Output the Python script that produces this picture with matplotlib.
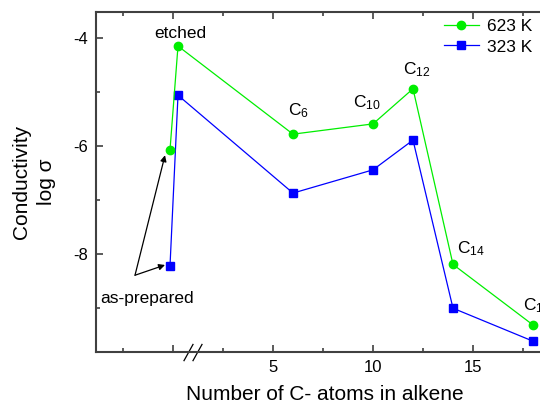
import matplotlib
matplotlib.use('Agg')
import matplotlib.pyplot as plt

plt.rcParams['font.family'] = ['Liberation Sans', 'DejaVu Sans']
plt.rcParams['mathtext.default'] = 'regular'
plt.rcParams['axes.unicode_minus'] = False

# x positions: as-prepared and etched samples sit left of the axis break
carbon_atoms = [-0.15, 0.25, 6, 10, 12, 14, 18]
log_sigma_623 = [-6.07, -4.15, -5.78, -5.59, -4.94, -8.19, -9.31]
log_sigma_323 = [-8.22, -5.06, -6.87, -6.44, -5.89, -9.00, -9.61]

sample_labels = ['C$_{6}$', 'C$_{10}$', 'C$_{12}$', 'C$_{14}$', 'C$_{18}$']
label_x = [5.75, 9.0, 11.5, 14.2, 17.5]
label_y = [-5.43, -5.28, -4.67, -7.98, -9.04]

x_major = [0, 5, 10, 15]
x_major_labels = ['', '5', '10', '15']
x_minor = [-2.5, 2.5, 7.5, 12.5, 17.5]
y_major = [-4, -6, -8]
y_minor = [-5, -7, -9]

axis_color = '#404040'


def main():
    fig = plt.figure(figsize=(5.4, 4.07), dpi=100)
    ax = fig.add_axes([96 / 540, 55 / 407, 457 / 540, 340 / 407])

    ax.plot(carbon_atoms, log_sigma_323, color='#0000ff', lw=0.9,
            marker='s', ms=5.2, label='323 K')
    ax.plot(carbon_atoms, log_sigma_623, color='#00ee00', lw=0.9,
            marker='o', ms=6, label='623 K')

    ax.set_xlim(-3.85, 19)
    ax.set_ylim(-9.81, -3.52)

    ax.set_xticks(x_major)
    ax.set_xticklabels(x_major_labels)
    ax.set_xticks(x_minor, minor=True)
    ax.set_yticks(y_major)
    ax.set_yticks(y_minor, minor=True)
    ax.tick_params(which='both', direction='in', top=True, right=True,
                   labelsize=12, color=axis_color, width=1.2)
    ax.tick_params(which='major', length=5, pad=6)
    ax.tick_params(which='minor', length=3)
    for sp in ax.spines.values():
        sp.set_color(axis_color)
        sp.set_linewidth(1.5)

    # axis break marks
    for dx in [0.55, 1.0]:
        ax.plot([dx, dx + 0.45], [-9.97, -9.67], color='black', lw=0.9,
                clip_on=False)

    ax.text(0.35, -4.0, 'etched', fontsize=12.5, ha='center', va='baseline')
    for lab, lx, ly in zip(sample_labels, label_x, label_y):
        ax.text(lx, ly, lab, fontsize=12.5, ha='left', va='baseline')

    ax.text(-3.65, -8.91, 'as-prepared', fontsize=12.5, ha='left', va='baseline')
    arrow = dict(arrowstyle='-|>', color='black', lw=0.9,
                 mutation_scale=9, shrinkA=0, shrinkB=0)
    ax.annotate('', xy=(-0.4, -6.17), xytext=(-1.9, -8.39), arrowprops=arrow)
    ax.annotate('', xy=(-0.4, -8.2), xytext=(-1.9, -8.39), arrowprops=arrow)

    handles, labels = ax.get_legend_handles_labels()
    fig.legend(handles[::-1], labels[::-1], loc='upper left',
               bbox_to_anchor=(444 / 540, 1 - 19 / 407), frameon=False,
               fontsize=12.5, handlelength=2.0, handletextpad=0.5,
               borderpad=0, borderaxespad=0, labelspacing=0.3)

    ax.set_xlabel('Number of C- atoms in alkene', fontsize=15, labelpad=7)
    ax.set_ylabel('Conductivity\nlog σ', fontsize=15, labelpad=12,
                  linespacing=1.45)

    fig.savefig('out.png', dpi=100)


if __name__ == "__main__":
    main()
